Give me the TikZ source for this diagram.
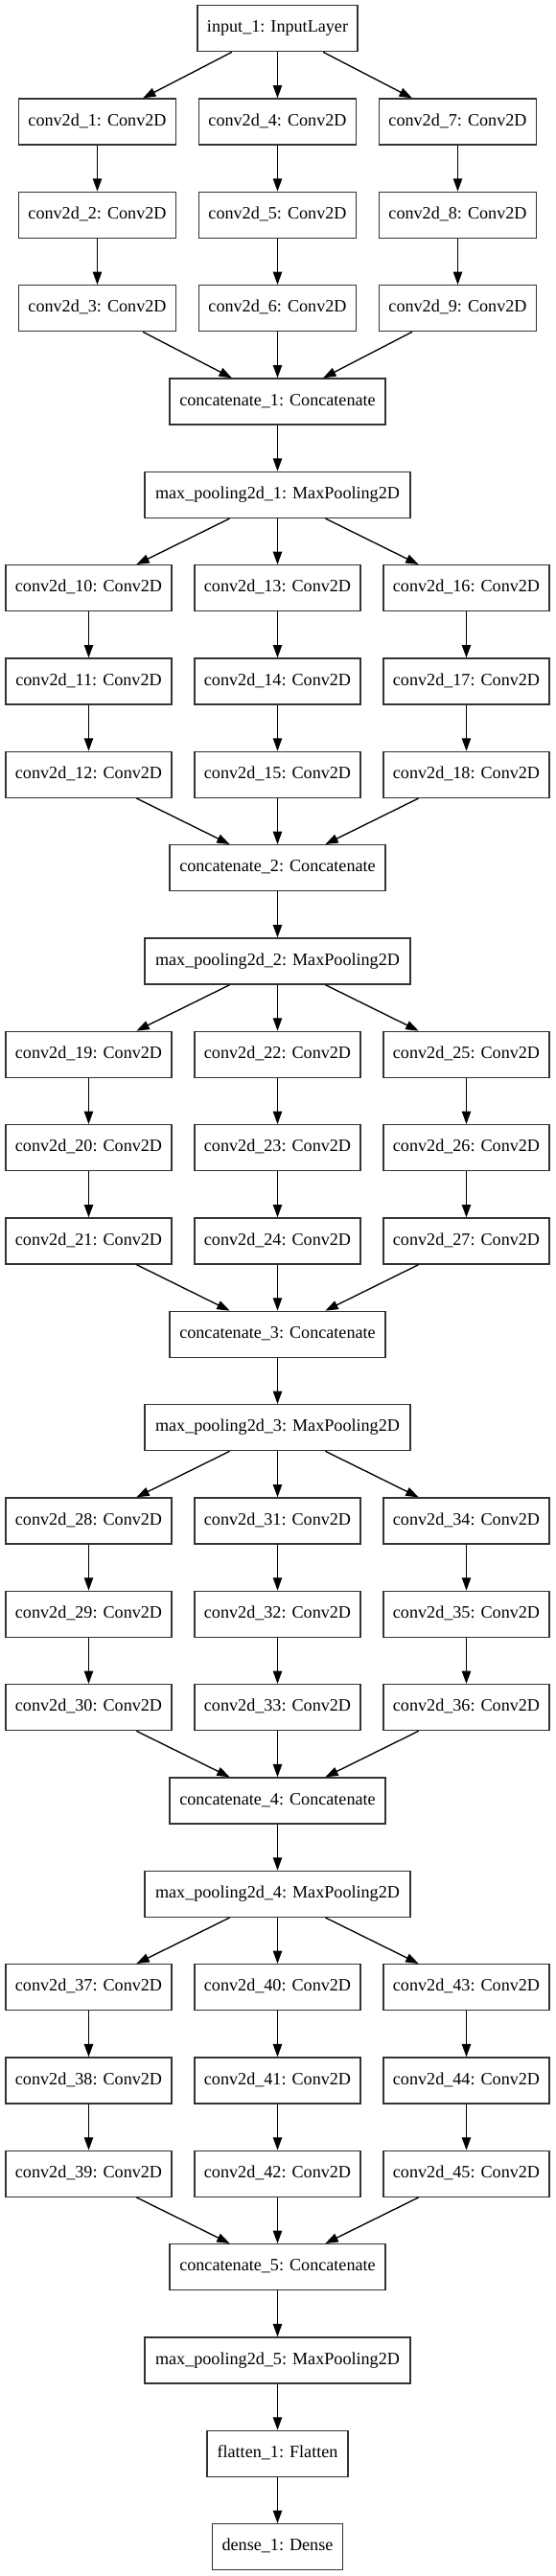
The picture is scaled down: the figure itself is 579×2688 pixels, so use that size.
\documentclass[tikz,border=0pt]{standalone}
\usepackage{fontspec}
\setmainfont{Liberation Serif}
\usetikzlibrary{arrows.meta}
\definecolor{border}{HTML}{333333}
\begin{document}
\begin{tikzpicture}[x=0.75pt,y=-0.75pt,
  layer/.style={draw=border, line width=1pt, minimum height=36pt, inner sep=0pt,
    text height=9.8pt, text depth=3.5pt, font=\fontsize{13.6}{16}\selectfont, anchor=center},
  edge/.style={draw=black, line width=1pt, -{Triangle[length=10pt,width=7pt]}}]
\useasboundingbox (0,0) rectangle (579,2688);
\node[layer, minimum width=125.25pt] (in) at (289.5,29.7) {input\_1: InputLayer};
\foreach \b in {0,...,4}{
  \pgfmathtruncatemacro\base{5*\b}
  \ifnum\b=0 \def\off{188}\def\w{123pt}\else\def\off{197}\def\w{129.75pt}\fi
  \foreach \c in {0,1,2}{
    \foreach \r in {0,1,2}{
      \pgfmathtruncatemacro\n{9*\b+3*\c+\r+1}
      \pgfmathsetmacro\xx{289.5+(\c-1)*\off}
      \pgfmathsetmacro\yy{29.7+97.33*(\base+\r+1)}
      \node[layer, minimum width=\w] (c\n) at (\xx,\yy) {conv2d\_\n: Conv2D};
    }
  }
  \pgfmathtruncatemacro\k{\b+1}
  \pgfmathsetmacro\ya{29.7+97.33*(\base+4)}
  \pgfmathsetmacro\yb{29.7+97.33*(\base+5)}
  \node[layer, minimum width=168.75pt] (cat\k) at (289.5,\ya) {concatenate\_\k: Concatenate};
  \node[layer, minimum width=207.75pt] (mp\k) at (289.5,\yb) {max\_pooling2d\_\k: MaxPooling2D};
}
\node[layer, minimum width=110.25pt] (fl) at (289.5,{29.7+97.33*26}) {flatten\_1: Flatten};
\node[layer, minimum width=102pt] (de) at (289.5,{29.7+97.33*27}) {dense\_1: Dense};
\foreach \b in {0,...,4}{
  \pgfmathtruncatemacro\k{\b+1}
  \ifnum\b=0 \def\src{in}\else \edef\src{mp\b}\fi
  \foreach \c in {0,1,2}{
    \pgfmathtruncatemacro\f{9*\b+3*\c+1}
    \pgfmathtruncatemacro\g{\f+1}
    \pgfmathtruncatemacro\h{\f+2}
    \draw[edge] (\src) -- (c\f);
    \draw[edge] (c\f) -- (c\g);
    \draw[edge] (c\g) -- (c\h);
    \draw[edge] (c\h) -- (cat\k);
  }
  \draw[edge] (cat\k) -- (mp\k);
}
\draw[edge] (mp5) -- (fl);
\draw[edge] (fl) -- (de);
\end{tikzpicture}
\end{document}
